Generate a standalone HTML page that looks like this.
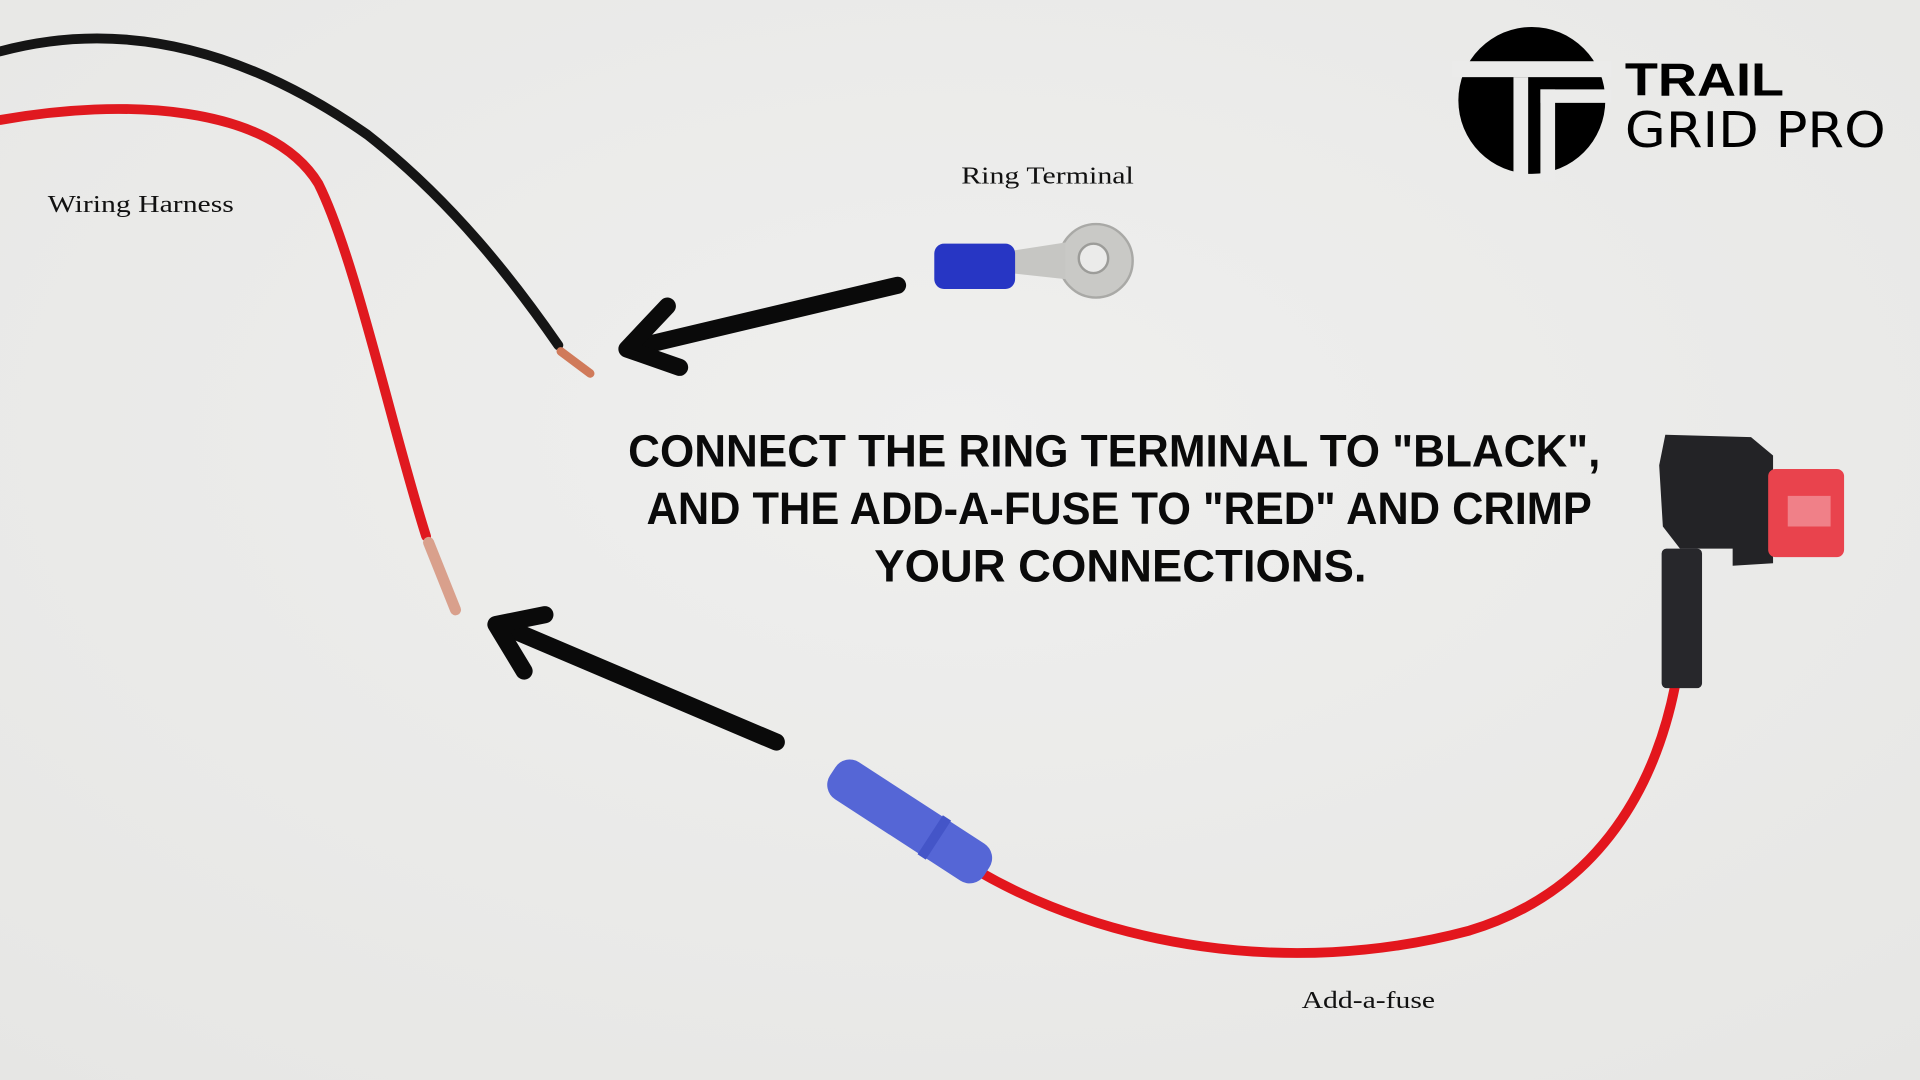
<!DOCTYPE html>
<html><head><meta charset="utf-8"><style>
html,body{margin:0;padding:0;background:#ebebea;}
svg{display:block}
</style></head><body>
<svg width="1920" height="1080" viewBox="0 0 1568 882" xmlns="http://www.w3.org/2000/svg">
<defs>
<radialGradient id="bg" cx="0.5" cy="0.4" r="0.8"><stop offset="0" stop-color="#efefee"/><stop offset="1" stop-color="#e6e6e4"/></radialGradient>
</defs>
<rect width="1568" height="882" fill="url(#bg)"/>
<!-- wires -->
<path d="M0,42 C100,15 200,40 300,110 C370,165 420,230 456,282" fill="none" stroke="#151515" stroke-width="8" stroke-linecap="round"/>
<path d="M458,287 L482,305" stroke="#d07a5a" stroke-width="7" stroke-linecap="round"/>
<path d="M0,98 C100,80 220,85 260,150 C290,210 320,350 348,438" fill="none" stroke="#e0191f" stroke-width="8" stroke-linecap="round"/>
<path d="M350,443 L372,498" stroke="#d9a08c" stroke-width="9" stroke-linecap="round"/>
<!-- arrows -->
<g stroke="#0a0a0a" stroke-width="14" stroke-linecap="round" stroke-linejoin="round" fill="none">
<path d="M733,233 L518,284"/>
<path d="M545,250 L512,285 L555,300"/>
<path d="M634,606 L408,510"/>
<path d="M445,502 L405,510 L428,548"/>
</g>
<!-- ring terminal -->
<circle cx="895" cy="213" r="30" fill="#c9c9c6" stroke="#a9a9a6" stroke-width="2"/>
<circle cx="893" cy="211" r="12" fill="#ebebea" stroke="#9c9c99" stroke-width="2"/>
<path d="M825,205 L870,198 L870,228 L825,223Z" fill="#c6c6c3"/>
<rect x="763" y="199" width="66" height="37" rx="8" fill="#2736c4"/>
<!-- add-a-fuse wire -->
<path d="M800,712 C900,770 1050,800 1200,760 C1300,730 1350,650 1368,560" fill="none" stroke="#e3161d" stroke-width="8" stroke-linecap="round"/>
<g transform="translate(680,630) rotate(33)">
<rect x="0" y="-18" width="150" height="36" rx="14" fill="#5566d6"/>
<rect x="95" y="-19" width="8" height="38" fill="#4455c8"/>
</g>
<rect x="1357" y="448" width="33" height="114" rx="4" fill="#27272b"/>
<path d="M1360,355 L1430,357 L1448,372 L1448,460 L1415,462 L1415,448 L1372,448 L1358,430 L1355,380Z" fill="#232326"/>
<rect x="1444" y="383" width="62" height="72" rx="6" fill="#e9434d"/>
<path d="M1460,405 L1495,405 L1495,430 L1460,430Z" fill="#f08088"/>
<!-- labels -->
<g font-family="'Liberation Serif',serif" font-size="20" fill="#111">
<text x="39" y="173" textLength="152" lengthAdjust="spacingAndGlyphs">Wiring Harness</text>
<text x="785" y="150" textLength="141" lengthAdjust="spacingAndGlyphs">Ring Terminal</text>
<text x="1063" y="823" textLength="109" lengthAdjust="spacingAndGlyphs">Add-a-fuse</text>
</g>
<g font-family="'Liberation Sans',sans-serif" font-weight="bold" font-size="37" fill="#0a0a0a" text-anchor="middle">
<text x="910" y="381" textLength="794" lengthAdjust="spacingAndGlyphs">CONNECT THE RING TERMINAL TO "BLACK",</text>
<text x="914" y="428" textLength="772" lengthAdjust="spacingAndGlyphs">AND THE ADD-A-FUSE TO "RED" AND CRIMP</text>
<text x="915" y="475" textLength="402" lengthAdjust="spacingAndGlyphs">YOUR CONNECTIONS.</text>
</g>
<!-- logo -->
<circle cx="1251" cy="82" r="60" fill="#000"/>
<rect x="1186" y="50" width="130" height="13" fill="#ebebea"/>
<rect x="1236" y="63" width="12" height="85" fill="#ebebea"/>
<rect x="1258" y="73" width="58" height="11" fill="#ebebea"/>
<rect x="1258" y="73" width="12" height="75" fill="#ebebea"/>
<text x="1327" y="78" font-family="'Liberation Sans',sans-serif" font-weight="bold" font-size="38" fill="#000" textLength="130" lengthAdjust="spacingAndGlyphs">TRAIL</text>
<text x="1327" y="120" font-family="'DejaVu Sans',sans-serif" font-weight="normal" font-size="40" fill="#000" textLength="213" lengthAdjust="spacingAndGlyphs">GRID PRO</text>
</svg>
</body></html>
